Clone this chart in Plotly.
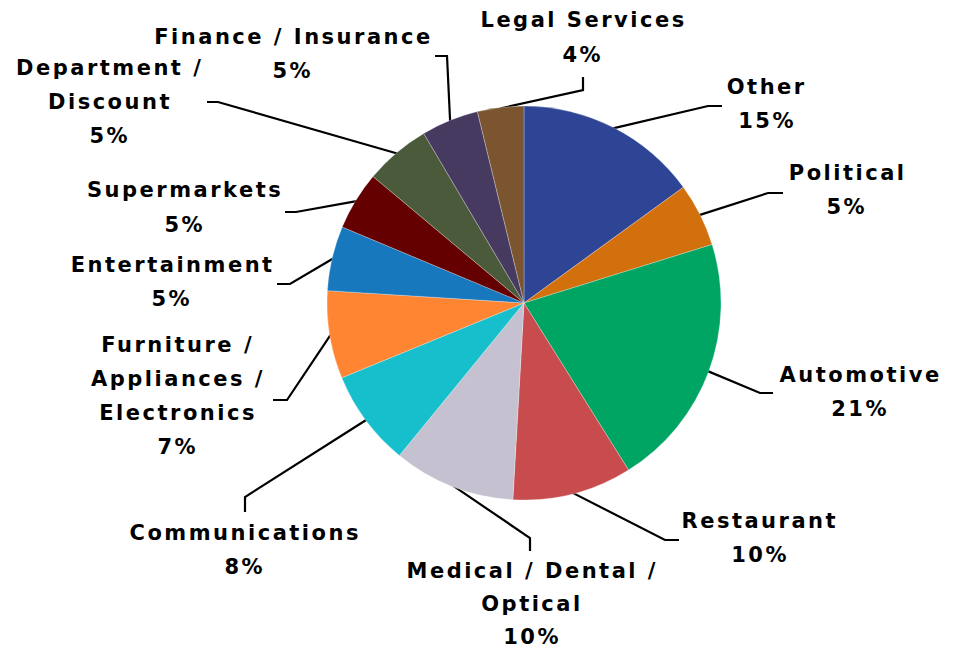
import math
import plotly.graph_objects as go

# ---- data ----
labels = ["Other", "Political", "Automotive", "Restaurant",
          "Medical / Dental / Optical", "Communications",
          "Furniture / Appliances / Electronics", "Entertainment",
          "Supermarkets", "Department / Discount", "Finance / Insurance",
          "Legal Services"]
values = [15.0, 5.2, 20.9, 9.8, 10.0, 7.9, 7.2, 5.3, 4.8, 5.4, 4.7, 3.8]
label_lines = [["Other"], ["Political"], ["Automotive"], ["Restaurant"],
               ["Medical / Dental /", "Optical"], ["Communications"],
               ["Furniture /", "Appliances /", "Electronics"], ["Entertainment"],
               ["Supermarkets"], ["Department /", "Discount"],
               ["Finance / Insurance"], ["Legal Services"]]
colors = ["#2E4596", "#D2700E", "#00A463", "#C84B4D", "#C5C1D1", "#17BECB",
          "#FF8533", "#1878BE", "#650000", "#4B5A3A", "#463A61", "#7A5530"]

# ---- layout (pixels) ----
W, H = 953, 650
CX, CY, R = 524, 303, 197
# label center x, first-line y, line gap; leader elbow; leader end
label_layout = [
    ((767, 87, 34), (708, 106), (722, 106)),
    ((847, 173, 34), (768, 193), (783, 193)),
    ((860, 375, 34), (760, 393), (773, 393)),
    ((760, 521, 34), (665, 540), (679, 540)),
    ((532, 571, 33), (530, 538), (530, 551)),
    ((245, 533, 34), (245, 497), (245, 512)),
    ((178, 345, 34), (287, 400), (273, 400)),
    ((172, 265, 34), (290, 284), (277, 284)),
    ((185, 190, 35), (296, 212), (285, 212)),
    ((110, 68, 34), (218, 102), (207, 102)),
    ((293, 37, 34), (447, 56), (435, 56)),
    ((583, 20, 35), (583, 90), (583, 77)),
]

total = sum(values)
fig = go.Figure()
fig.add_trace(go.Pie(
    labels=labels, values=values, sort=False, direction="clockwise",
    rotation=0, textinfo="none", hoverinfo="label+percent",
    marker=dict(colors=colors, line=dict(color="rgba(255,255,255,0.45)", width=0.6)),
    domain=dict(x=[(CX - R) / W, (CX + R) / W], y=[1 - (CY + R) / H, 1 - (CY - R) / H]),
    showlegend=False,
))

font = dict(family="DejaVu Sans", size=21, color="black", weight="bold")
annotations = []
cum = 0.0
for i, v in enumerate(values):
    mid = 2 * math.pi * (cum + v / 2) / total
    cum += v
    sx = CX + R * 0.995 * math.sin(mid)
    sy = CY - R * 0.995 * math.cos(mid)
    (lx, ly, gap), (ex, ey), (tx, ty) = label_layout[i]
    fig.add_trace(go.Scatter(x=[sx, ex, tx], y=[sy, ey, ty], mode="lines",
                             line=dict(color="black", width=2.2),
                             hoverinfo="skip", showlegend=False,
                             xaxis="x", yaxis="y"))
    pct = f"{round(100 * v / total):d}%"
    lines = label_lines[i] + [pct]
    for j, t in enumerate(lines):
        annotations.append(dict(x=lx, y=ly + j * gap, xref="x", yref="y",
                                text=t, showarrow=False, font=font,
                                xanchor="center", yanchor="middle"))

fig.update_layout(
    width=W, height=H, margin=dict(l=0, r=0, t=0, b=0),
    paper_bgcolor="white", plot_bgcolor="rgba(0,0,0,0)",
    xaxis=dict(range=[0, W], visible=False, domain=[0, 1], fixedrange=True),
    yaxis=dict(range=[H, 0], visible=False, domain=[0, 1], fixedrange=True),
    annotations=annotations,
)

post = """
document.body.style.margin = '0';
document.querySelectorAll('.annotation-text').forEach(function (el) {
    el.style.letterSpacing = '2.5px';
});
"""
fig.write_html("out.html", post_script=post, config={"displayModeBar": False})
